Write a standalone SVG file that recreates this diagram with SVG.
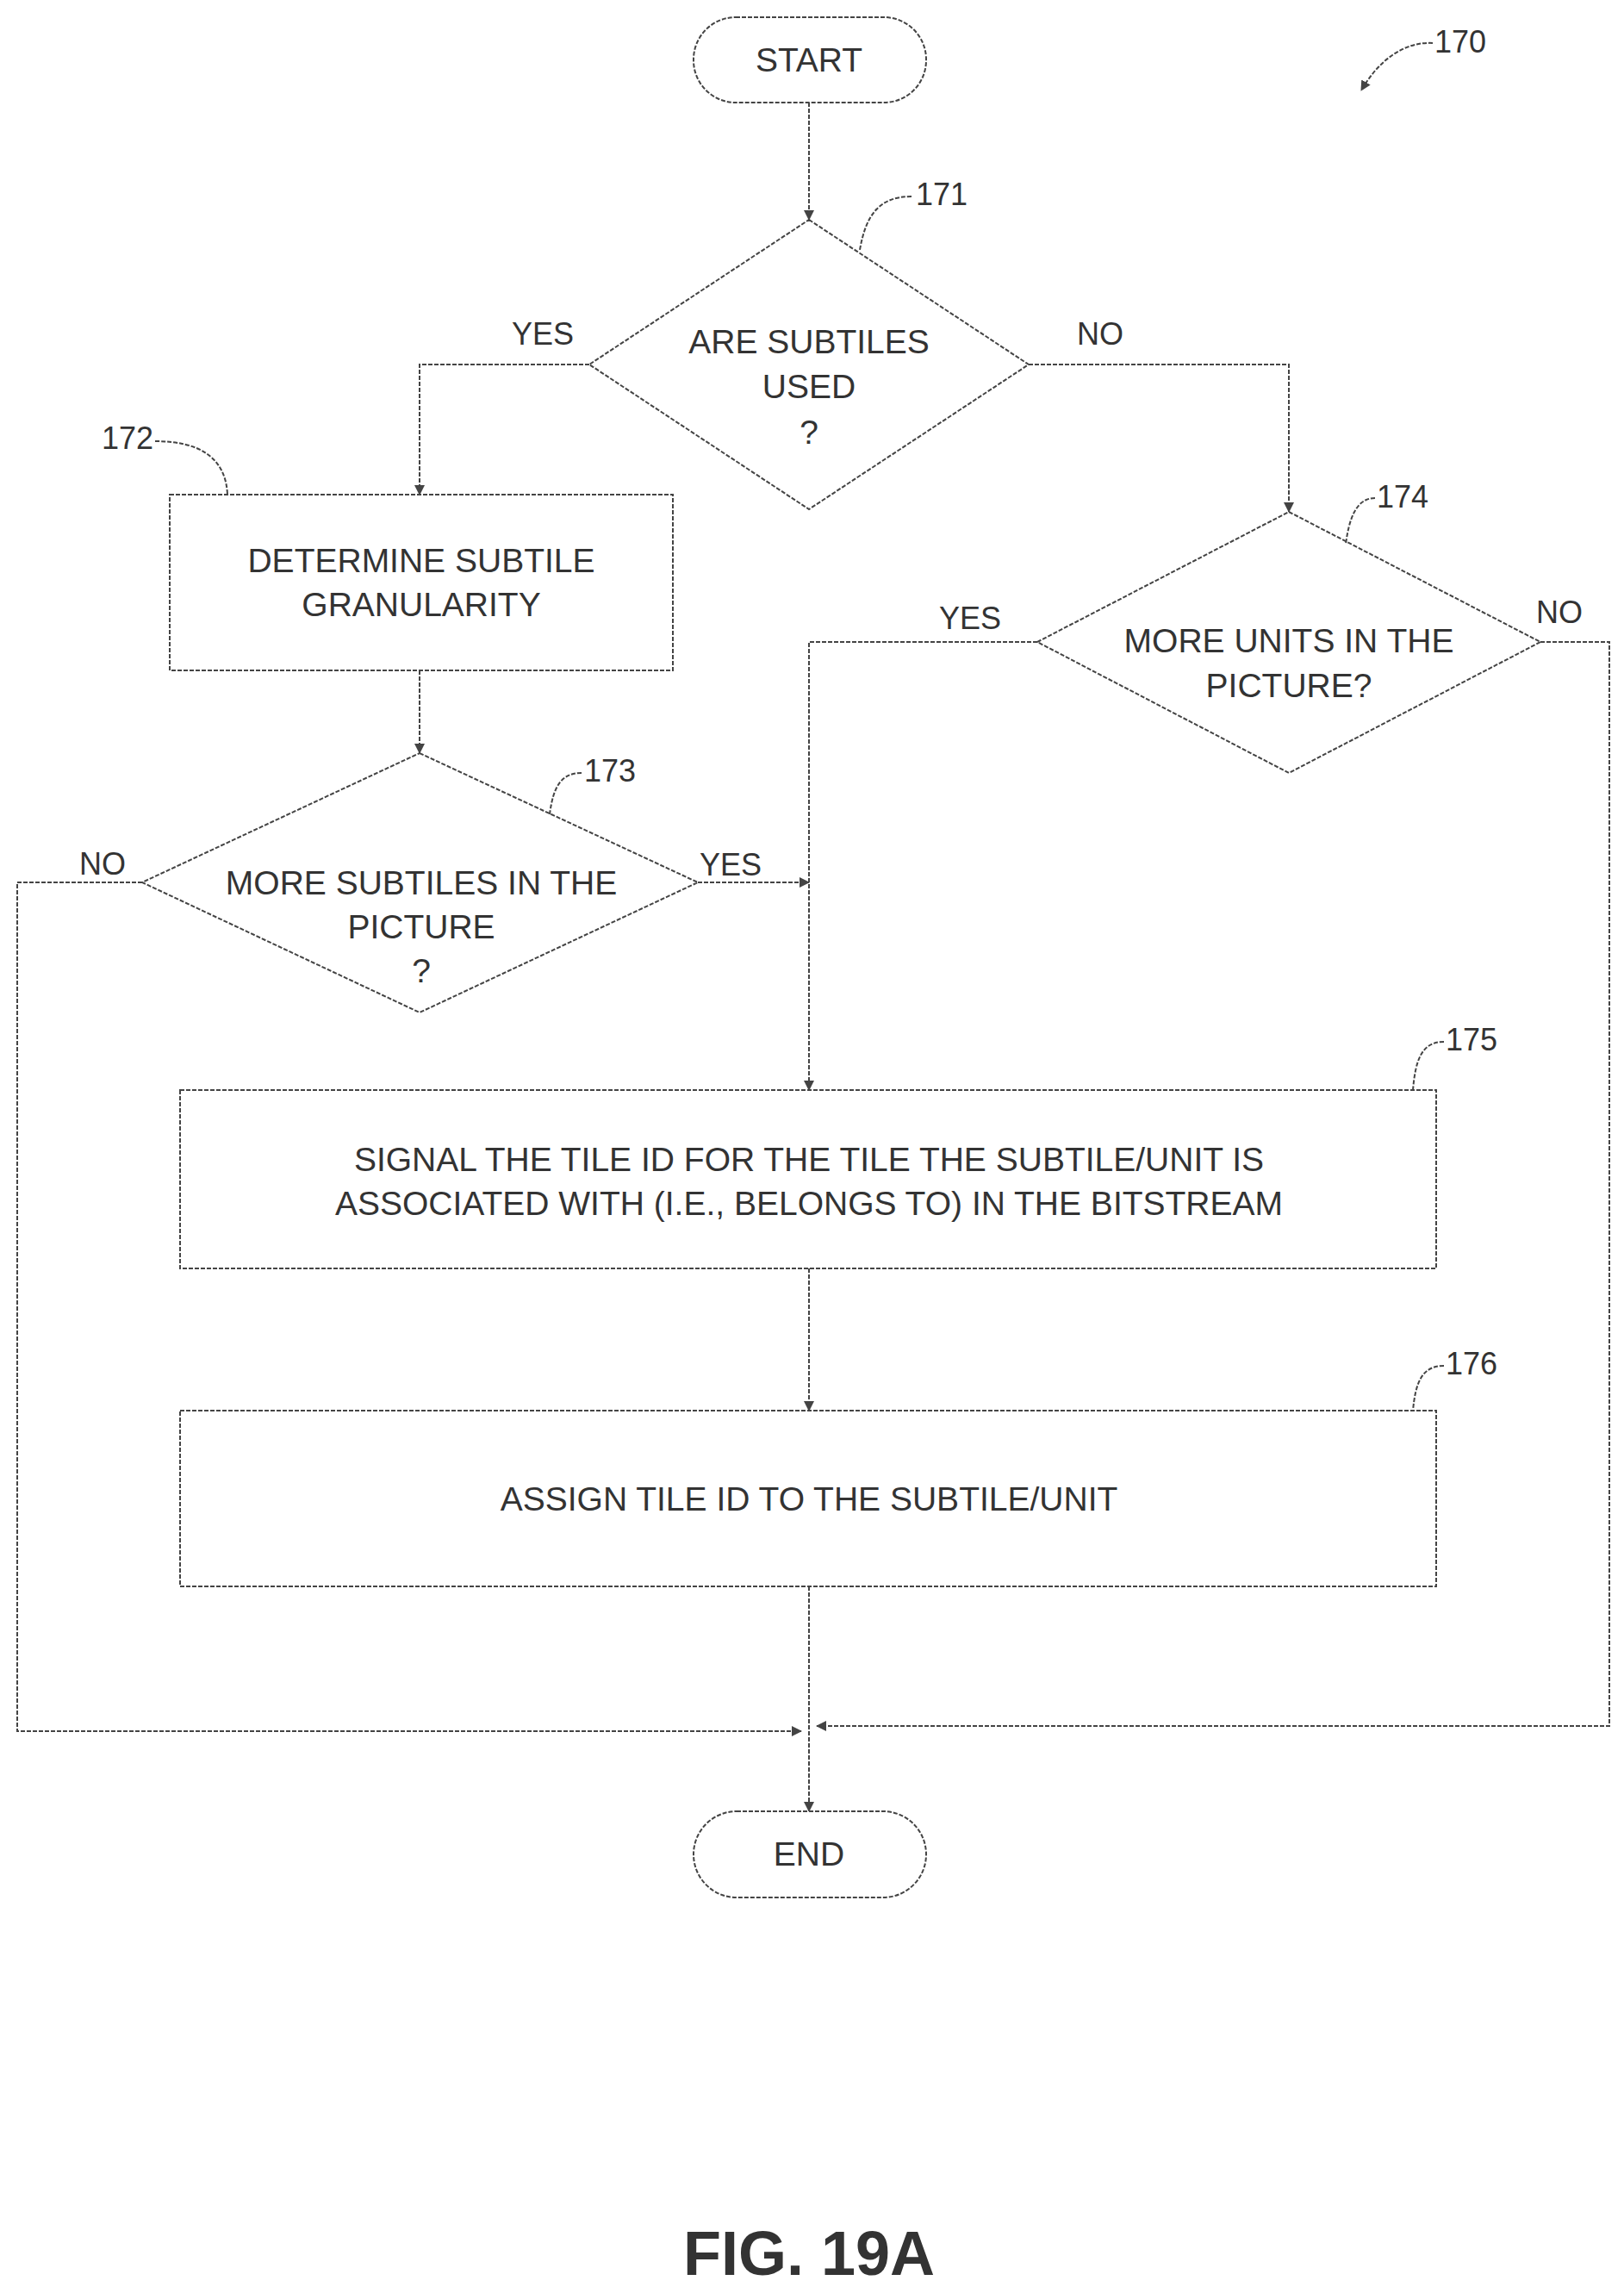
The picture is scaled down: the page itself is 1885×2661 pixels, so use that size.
<svg xmlns="http://www.w3.org/2000/svg" width="1885" height="2661" viewBox="0 0 1885 2661">
<style>
.s{fill:none;stroke:#444;stroke-width:2;stroke-dasharray:5 2}
.b{fill:#fff;stroke:#444;stroke-width:2;stroke-dasharray:5 2}
.t{font-family:"Liberation Sans",Arial,sans-serif;font-size:39px;fill:#333;text-anchor:middle}
.l{font-family:"Liberation Sans",Arial,sans-serif;font-size:36px;fill:#333}
</style>
<defs><marker id="a" markerWidth="12" markerHeight="12" refX="11" refY="6" orient="auto" markerUnits="userSpaceOnUse"><path d="M0,0 L12,6 L0,12 Z" fill="#444"/></marker></defs>
<rect width="1885" height="2661" fill="#fff"/>
<g id="connectors">
<path class="s" d="M939,119 V255" marker-end="url(#a)"/>
<path class="s" d="M684,423 H487 V574" marker-end="url(#a)"/>
<path class="s" d="M1194,423 H1496 V594" marker-end="url(#a)"/>
<path class="s" d="M487,778 V874" marker-end="url(#a)"/>
<path class="s" d="M810,1024 H939" marker-end="url(#a)"/>
<path class="s" d="M1204,745 H939 V1265" marker-end="url(#a)"/>
<path class="s" d="M165,1024 H20 V2009 H930" marker-end="url(#a)"/>
<path class="s" d="M1788,745 H1868 V2003 H948" marker-end="url(#a)"/>
<path class="s" d="M939,1472 V1637" marker-end="url(#a)"/>
<path class="s" d="M939,1841 V2102" marker-end="url(#a)"/>
<text class="l" x="594" y="400">YES</text>
<text class="l" x="1250" y="400">NO</text>
<text class="l" x="1090" y="730">YES</text>
<text class="l" x="1783" y="723">NO</text>
<text class="l" x="92" y="1015">NO</text>
<text class="l" x="812" y="1016">YES</text>
</g>
<g id="n170"><text class="l" x="1665" y="61">170</text><path class="s" d="M1663,50 C1630,48 1600,70 1580,105" marker-end="url(#a)"/></g>
<g id="start"><rect class="b" x="805" y="20" width="270" height="99" rx="49"/><text class="t" x="939" y="83">START</text></g>
<g id="n171"><path class="b" d="M939,255 L1194,423 L939,591 L684,423 Z"/><text class="t" x="939" y="410">ARE SUBTILES</text><text class="t" x="939" y="462">USED</text><text class="t" x="939" y="515">?</text><text class="l" x="1063" y="238">171</text><path class="s" d="M1058,228 C1020,228 1005,250 998,290"/></g>
<g id="n172"><rect class="b" x="197" y="574" width="584" height="204"/><text class="t" x="489" y="664">DETERMINE SUBTILE</text><text class="t" x="489" y="715">GRANULARITY</text><text class="l" x="118" y="521">172</text><path class="s" d="M180,512 C230,512 262,530 264,574"/></g>
<g id="n173"><path class="b" d="M487,874 L810,1024 L487,1175 L165,1024 Z"/><text class="t" x="489" y="1038">MORE SUBTILES IN THE</text><text class="t" x="489" y="1089">PICTURE</text><text class="t" x="489" y="1140">?</text><text class="l" x="678" y="907">173</text><path class="s" d="M675,897 C650,897 642,915 638,945"/></g>
<g id="n174"><path class="b" d="M1496,594 L1788,745 L1496,897 L1204,745 Z"/><text class="t" x="1496" y="757">MORE UNITS IN THE</text><text class="t" x="1496" y="809">PICTURE?</text><text class="l" x="1598" y="589">174</text><path class="s" d="M1596,578 C1575,578 1566,600 1562,632"/></g>
<g id="n175"><rect class="b" x="209" y="1265" width="1458" height="207"/><text class="t" x="939" y="1359">SIGNAL THE TILE ID FOR THE TILE THE SUBTILE/UNIT IS</text><text class="t" x="939" y="1410">ASSOCIATED WITH (I.E., BELONGS TO) IN THE BITSTREAM</text><text class="l" x="1678" y="1219">175</text><path class="s" d="M1676,1209 C1650,1209 1643,1230 1640,1265"/></g>
<g id="n176"><rect class="b" x="209" y="1637" width="1458" height="204"/><text class="t" x="939" y="1753">ASSIGN TILE ID TO THE SUBTILE/UNIT</text><text class="l" x="1678" y="1595">176</text><path class="s" d="M1676,1585 C1650,1585 1643,1605 1640,1637"/></g>
<g id="end"><rect class="b" x="805" y="2102" width="270" height="100" rx="50"/><text class="t" x="939" y="2165">END</text></g>
<text x="939" y="2640" font-family="Liberation Sans,Arial,sans-serif" font-size="72" font-weight="bold" fill="#333" text-anchor="middle">FIG. 19A</text>
</svg>
